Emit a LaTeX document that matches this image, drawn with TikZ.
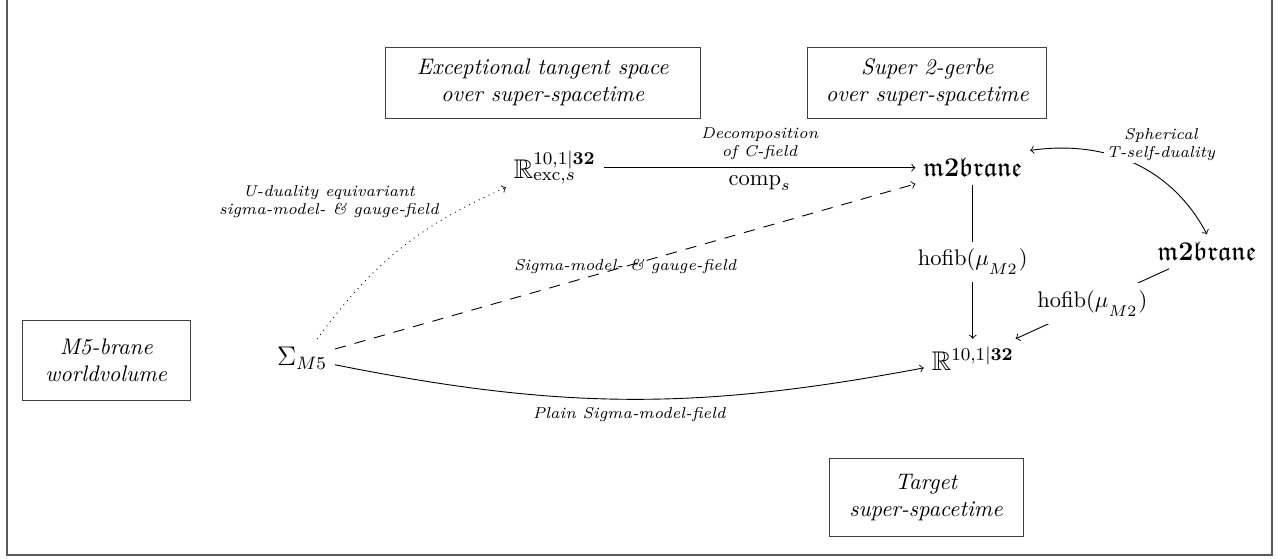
\documentclass[tikz,border=0pt]{standalone}
\usepackage{amssymb}
\usepackage{mathtools}
\usetikzlibrary{positioning}
\usetikzlibrary{arrows}

\begin{document}
\begin{tikzpicture}
	\useasboundingbox (0,0) rectangle (19.97,-8.72);
	\draw[black!65, line width=.8pt] (0.11,0.5) rectangle (19.875,-8.67);
	
	% boxes
	\node[draw=black!75, align=center, font=\itshape, minimum width=4.92cm, minimum height=1.11cm] (Exc) at (8.48,-1.29) {Exceptional tangent space\\over super-spacetime};
	\node[draw=black!75, align=center, font=\itshape, minimum width=3.73cm, minimum height=1.11cm, right = 1.67cm of Exc] (Gerbe) {Super 2-gerbe\\over super-spacetime};
	\node[draw=black!75, align=center, font=\itshape, minimum width=2.63cm, minimum height=1.25cm] (World) at (1.66,-5.63) {M5-brane\\worldvolume};
	\node[draw=black!75, align=center, font=\itshape, minimum width=3.03cm, minimum height=1.22cm] (Target) at (14.47,-7.78) {Target\\super-spacetime};
	
	% objects
	\node[font=\large] (Rexc) at (8.67,-2.62) {$\mathbb{R}^{10,1\vert\mathbf{32}}_{\mathrm{exc},s}$};
	\node[font=\large] (Mtop) at (15.2,-2.62) {$\mathfrak{m}\mathbf{2}\mathfrak{brane}$};
	\node[font=\large] (Mright) at (18.86,-3.93) {$\mathfrak{m}\mathbf{2}\mathfrak{brane}$};
	\node[font=\large] (Rsp) at (15.2,-5.6) {$\mathbb{R}^{10,1\vert\mathbf{32}}$};
	\node[font=\large] (Sig) at (4.72,-5.6) {$\Sigma_{M5}$};
	
	\path (Rexc) edge[->] node[above, font=\scriptsize\itshape, align=center] {Decomposition\\of C-field} node[below] {$\mathrm{comp}_s$} (Mtop);
	\path (Sig) edge[->, dotted, bend left=15] node[pos=.72, anchor=south east, inner sep=1pt, font=\scriptsize\itshape, align=center] {U-duality equivariant\\sigma-model- \& gauge-field} (Rexc);
	\path (Sig) edge[->, dash pattern=on 5pt off 4pt] node[midway, font=\scriptsize\itshape] {Sigma-model- \& gauge-field} (Mtop);
	\path (Sig) edge[->, bend right=11] node[midway, below, font=\scriptsize\itshape] {Plain Sigma-model-field} (Rsp);
	\path (Mtop) edge[->] node[midway, fill=white] {$\mathrm{hofib}(\mu_{{}_{\scriptstyle M2}})$} (Rsp);
	\path (Mright) edge[->] node[midway, fill=white] {$\mathrm{hofib}(\mu_{{}_{\scriptstyle M2}})$} (Rsp);
	\path (Mtop.north east) edge[<->, out=8, in=118] node[pos=.45, anchor=south west, xshift=-9pt, yshift=-2pt, fill=white, inner sep=1pt, font=\scriptsize\itshape, align=center] {Spherical\\T-self-duality} (Mright.north);
\end{tikzpicture}
\end{document}
